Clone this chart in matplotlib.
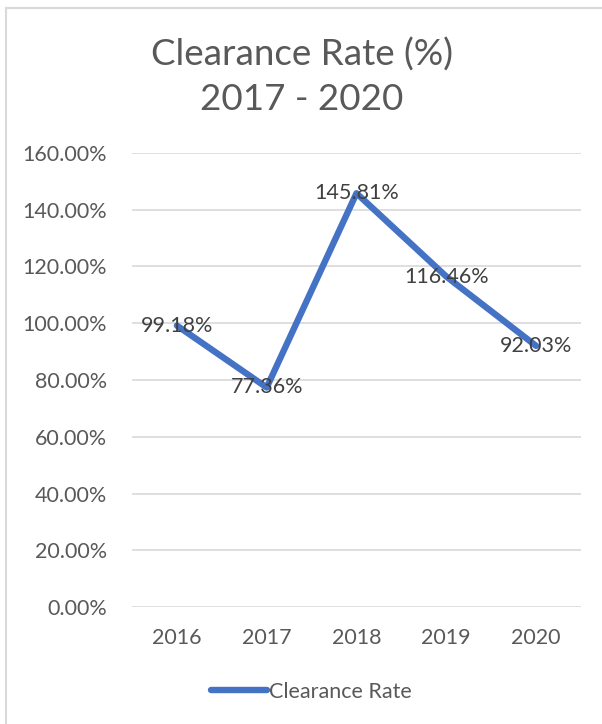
import matplotlib.pyplot as plt
from matplotlib.lines import Line2D
from matplotlib.ticker import FuncFormatter

years = ['2016', '2017', '2018', '2019', '2020']
clearance_rate = [99.18, 77.36, 145.81, 116.46, 92.03]

W, H = 602, 724
plt.rcParams['font.family'] = ['Lato', 'DejaVu Sans']

fig = plt.figure(figsize=(W / 100, H / 100), dpi=100)
ax = fig.add_axes([132 / W, 1 - 607 / H, (581 - 132) / W, (607 - 153) / H])

x = range(len(years))
ax.plot(x, clearance_rate, color='#4472C4', linewidth=4.6,
        solid_capstyle='round', solid_joinstyle='round', zorder=3)

# data labels sit centred on the points, like Excel
for i, v in enumerate(clearance_rate):
    ax.text(i, v, f'{v:.2f}%', ha='center', va='center',
            fontsize=15.5, color='#404040', zorder=4)

ax.set_xlim(-0.5, len(years) - 0.5)
ax.set_ylim(0, 160)
ax.set_yticks(range(0, 161, 20))
ax.yaxis.set_major_formatter(FuncFormatter(lambda v, p: f'{v:.2f}%'))
ax.set_xticks(list(x))
ax.set_xticklabels(years)
ax.tick_params(axis='both', length=0, labelsize=15.5, labelcolor='#595959')
ax.tick_params(axis='y', pad=18)
ax.tick_params(axis='x', pad=15)
ax.grid(axis='y', color='#D9D9D9', linewidth=1.2)
ax.set_axisbelow(True)
for s in ax.spines.values():
    s.set_visible(False)

fig.text(302 / W, 1 - 55 / H, 'Clearance Rate (%)', ha='center', va='center',
         fontsize=26.5, color='#595959')
fig.text(302 / W, 1 - 100 / H, '2017 - 2020', ha='center', va='center',
         fontsize=26.5, color='#595959')

# legend at the bottom
handle = Line2D([], [], color='#4472C4', linewidth=4.6, solid_capstyle='round')
fig.legend([handle], ['Clearance Rate'], loc='center', bbox_to_anchor=(311 / W, 1 - 692 / H),
           frameon=False, fontsize=15.5, labelcolor='#595959', handlelength=2.6,
           handletextpad=0.1)

# chart border
fig.add_artist(Line2D([6 / W, 6 / W], [0, 1 - 8 / H], color='#D9D9D9', linewidth=1.5))
fig.add_artist(Line2D([6 / W, 1], [1 - 8 / H, 1 - 8 / H], color='#D9D9D9', linewidth=1.5))

fig.savefig('out.png', dpi=100)
